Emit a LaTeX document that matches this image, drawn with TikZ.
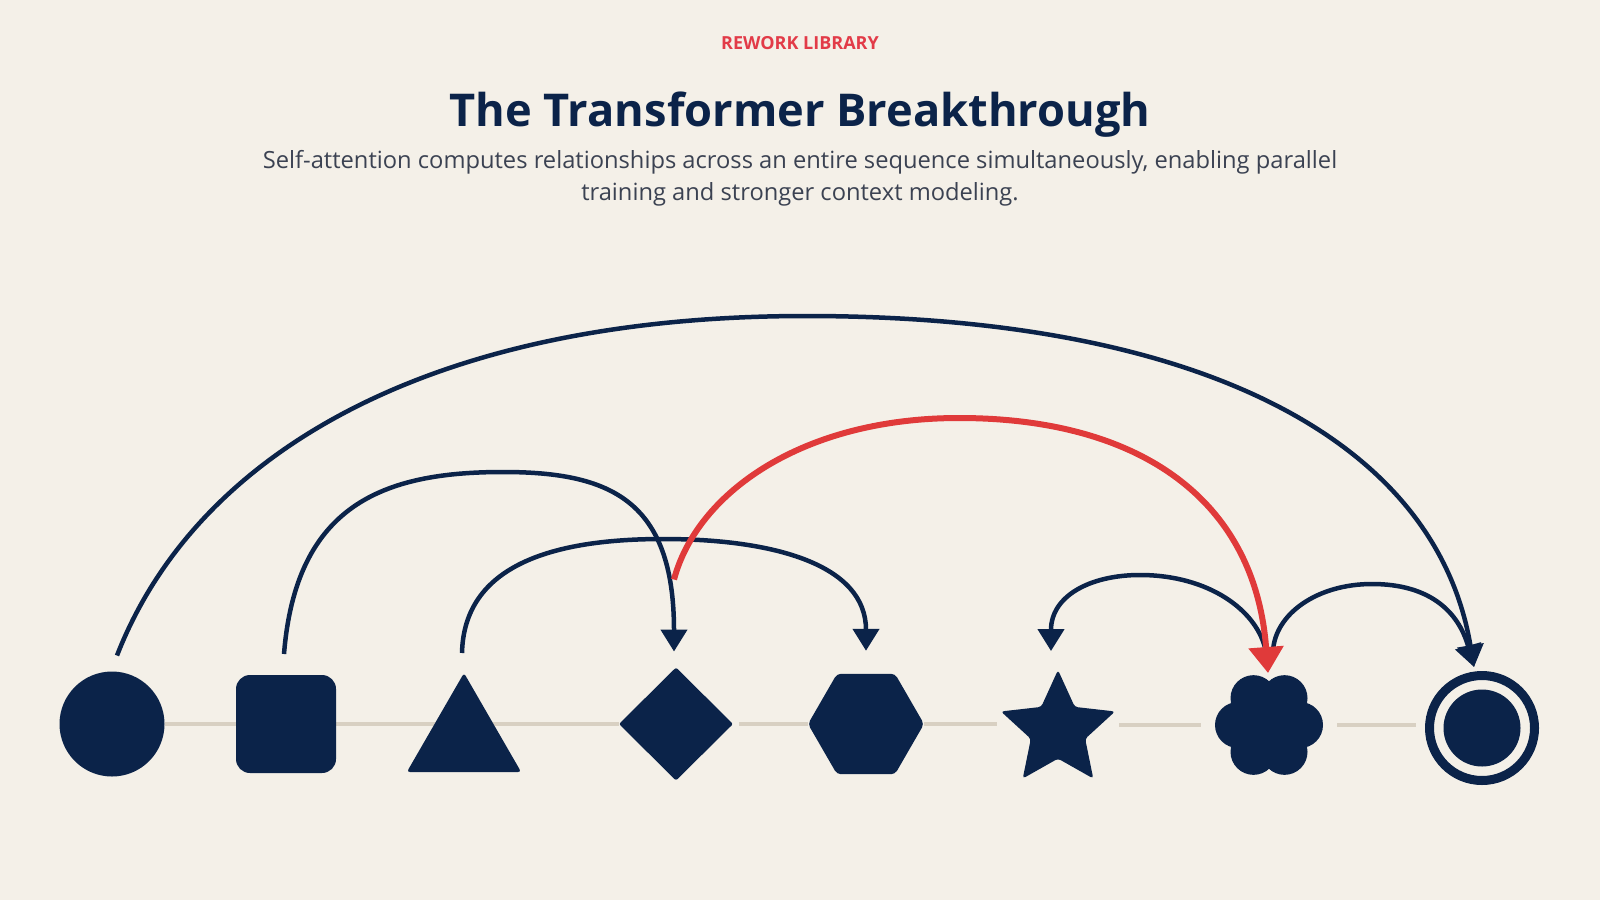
\documentclass[tikz,border=0pt]{standalone}
\usepackage{fontspec}
\setmainfont{Open Sans}
\usetikzlibrary{calc,arrows.meta,shapes.geometric,positioning,backgrounds}
\definecolor{paper}{HTML}{F4F0E8}
\definecolor{navy}{HTML}{0B2349}
\definecolor{alert}{HTML}{E03A3A}
\definecolor{tagred}{HTML}{E23B48}
\definecolor{slate}{HTML}{3B4252}
\definecolor{track}{HTML}{D8D0C2}

\begin{document}
\begin{tikzpicture}[x=0.5pt,y=-0.5pt,
    token/.style={fill=navy,inner sep=0pt,outer sep=0pt},
    slot/.style={circle,inner sep=0pt,outer sep=0pt},
    link/.style={navy,line width=2.25pt,-{Triangle[width=13pt,length=11pt]}},
    hot/.style={alert,line width=3pt,-{Triangle[width=17pt,length=13pt]}},
    rail/.style={track,line width=2pt}]
    \useasboundingbox (0,0) rectangle (1600,900);

    \node[text=tagred,font=\bfseries\fontsize{9}{11}\selectfont] (tag) at (800,43) {REWORK LIBRARY};
    \node[anchor=base,text=navy,font=\bfseries\fontsize{22.6}{27}\selectfont] (title) at (800,126) {The Transformer Breakthrough};
    \node[anchor=north,inner sep=0pt,text=slate,align=center,font=\fontsize{11.85}{15.8}\selectfont] (sub) at (800,150)
        {Self-attention computes relationships across an entire sequence simultaneously, enabling parallel\\training and stronger context modeling.};

    \node[token,circle,minimum size=52.5pt] (circ) at (112,724) {};
    \node[token,rectangle,rounded corners=7pt,minimum width=50pt,minimum height=49pt] (sq) at (286,724) {};
    \node[token,regular polygon,regular polygon sides=3,minimum size=66pt,rounded corners=1.5pt] (tri) at (464,739) {};
    \node[token,diamond,minimum width=57pt,minimum height=56.5pt,rounded corners=1pt] (dia) at (676,724) {};
    \node[token,regular polygon,regular polygon sides=6,minimum size=58pt,rounded corners=2pt] (hex) at (866,724) {};
    \node[token,star,star points=5,star point ratio=2.1,minimum size=60pt,rounded corners=1.5pt] (st) at (1058,730) {};
    \node[slot,minimum size=68pt] (flw) at (1269,725) {};
    \foreach \a in {0,60,...,300}
        \fill[navy] ($(flw)+(\a:31)$) circle (11.5pt);
    \fill[navy] (flw) circle (16pt);
    \node[slot,minimum size=65pt] (tgt) at (1482,728) {};
    \fill[navy] (tgt) circle (19.25pt);
    \draw[navy,line width=4.5pt] (tgt) circle (26.25pt);

    \begin{pgfonlayer}{background}
        \fill[paper] (0,0) rectangle (1600,900);
        \draw[rail] (circ) -- (sq);
        \draw[rail] (sq) -- (dia);
        \draw[rail,shorten <=3pt] (dia) -- (hex);
        \draw[rail,shorten >=30.5pt] (hex) -- (hex -| st);
        \draw[rail,shorten <=30.5pt] (st |- flw) -- (flw);
        \draw[rail,shorten >=33pt] (flw) -- (flw -| tgt);
    \end{pgfonlayer}

    \coordinate (topA) at (806,316);
    \coordinate (topB) at (503,472);
    \coordinate (topC) at (663,539);
    \coordinate (topD) at (959,418);
    \coordinate (topE) at (1140,575);
    \coordinate (topF) at (1372,584);

    \draw[link] ($(circ.north)+(5,-16)$) .. controls (195,455) and (427,316) .. (topA)
        .. controls (1200,316) and (1436,440) .. ($(tgt)+(-8,-61)$);
    \draw[link] ($(sq.north)+(-2,-21)$) .. controls (296,505) and (383,472) .. (topB)
        .. controls (610,472) and (674,500) .. ($(dia.north)+(-2,-16)$);
    \draw[link] ($(tri.north)+(-2,-20)$) .. controls (464,565) and (553,539) .. (topC)
        .. controls (775,539) and (866,565) .. ($(hex.north)+(0,-23)$);
    \draw[link] ($(flw)+(-3,-73)$) .. controls (1258,610) and (1208,575) .. (topE)
        .. controls (1090,575) and (1051,596) .. ($(st)+(-7,-79)$);
    \draw[link] ($(flw)+(4,-74)$) .. controls (1275,614) and (1317,584) .. (topF)
        .. controls (1428,584) and (1458,610) .. ($(tgt)+(-8,-61)$);
    \draw[hot] ($(dia.north)+(-2,-88)$) .. controls (697,493) and (802,418) .. (topD)
        .. controls (1140,418) and (1255,500) .. ($(flw)+(-1,-52)$);
\end{tikzpicture}
\end{document}
